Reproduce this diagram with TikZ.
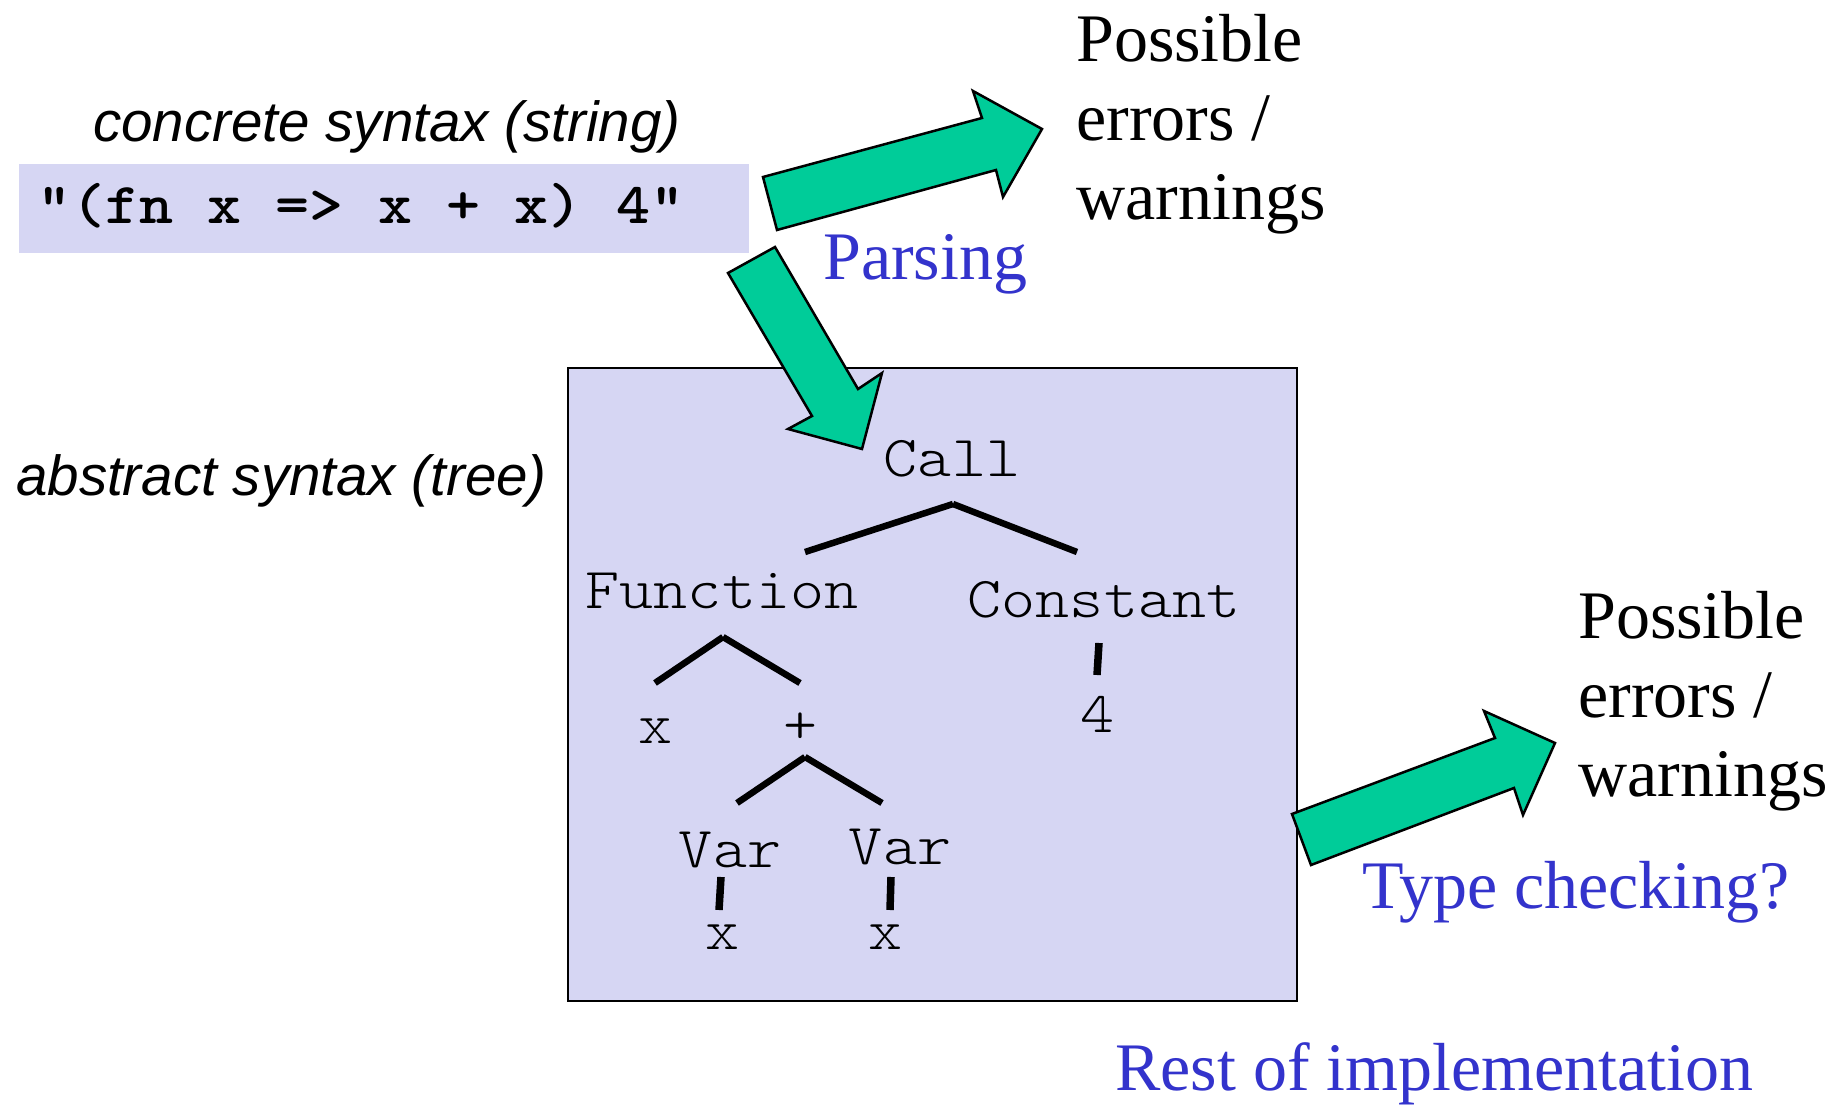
\documentclass[tikz,border=0pt]{standalone}
\usepackage{fontspec}
\setmainfont{Liberation Serif}
\setsansfont{Liberation Sans}
\definecolor{lav}{RGB}{214,214,243}
\definecolor{arrowgreen}{RGB}{0,204,153}
\definecolor{textblue}{RGB}{51,51,204}
\newcommand\treefnt{\fontfamily{lmtt}\fontseries{l}\fontshape{n}\fontsize{58}{60}\selectfont}
\newcommand\codefnt{\fontfamily{lmtt}\fontseries{b}\fontshape{n}\fontsize{58}{60}\selectfont}
\newcommand\serifbig{\rmfamily\fontsize{68}{79}\selectfont}
\newcommand\sansit{\sffamily\itshape\fontsize{56.5}{60}\selectfont}
\begin{document}
\begin{tikzpicture}[x=1pt,y=-1pt,
  tlabel/.style={font=\treefnt, inner sep=0pt, anchor=base, xscale=1.117},
  tlink/.style={line width=6.5pt, line cap=butt},
  tbar/.style={line width=7.5pt, line cap=butt},
  blockarrow/.style={fill=arrowgreen, draw=black, line width=2.5pt, line join=miter},
  errtext/.style={font=\serifbig, inner sep=0pt, align=left, anchor=north west},
  bluetext/.style={font=\serifbig, text=textblue, inner sep=0pt, anchor=base west},
  caption/.style={font=\sansit, inner sep=0pt, anchor=base west}
]
\useasboundingbox (0,0) rectangle (1845,1107);
\fill[white] (0,0) rectangle (1845,1107);

% concrete syntax
\node[caption] (concl) at (93,142) {concrete syntax (string)};
\node[fill=lav, minimum width=730, minimum height=89, inner sep=0pt, anchor=north west] (strbox) at (19,164) {};
\node[font=\codefnt, inner sep=0pt, anchor=base, xscale=1.117] (code) at (361,224) {"(fn x => x + x) 4"};

% abstract syntax
\node[caption] (absl) at (16,495) {abstract syntax (tree)};
\node[draw=black, fill=lav, line width=2pt, minimum width=729, minimum height=633, inner sep=0pt, anchor=north west] (astbox) at (567,367) {};

% tree labels
\node[tlabel] (call) at (952,476) {Call};
\node[tlabel] (fun) at (722,608) {Function};
\node[tlabel] (const) at (1104,617) {Constant};
\node[tlabel] (px) at (655,743) {x};
\node[tlabel] (plus) at (800,743) {+};
\node[tlabel] (four) at (1097,732) {4};
\node[tlabel] (varl) at (730,867) {Var};
\node[tlabel] (varr) at (900,864) {Var};
\node[tlabel] (xl) at (722,949) {x};
\node[tlabel] (xr) at (885,949) {x};

% tree link end points
\coordinate (callA) at (953,504);
\coordinate (funT) at (805,552);
\coordinate (constT) at (1077,552);
\coordinate (funA) at (723,637);
\coordinate (pxT) at (655,683);
\coordinate (plusT) at (800,683);
\coordinate (plusA) at (805,757);
\coordinate (varlT) at (737,803);
\coordinate (varrT) at (882,803);
\coordinate (constB) at (1099,643);
\coordinate (fourT) at (1097,675);
\coordinate (varlB) at (721,877);
\coordinate (xlT) at (719,910);
\coordinate (varrB) at (891,877);
\coordinate (xrT) at (890,910);

\draw[tlink] (callA) -- (funT);
\draw[tlink] (callA) -- (constT);
\draw[tlink] (funA) -- (pxT);
\draw[tlink] (funA) -- (plusT);
\draw[tlink] (plusA) -- (varlT);
\draw[tlink] (plusA) -- (varrT);
\draw[tbar] (constB) -- (fourT);
\draw[tbar] (varlB) -- (xlT);
\draw[tbar] (varrB) -- (xrT);

% block arrows
\draw[blockarrow] (777,230) -- (763,177) -- (982,118) -- (973,91) -- (1042,129) -- (1003,197) -- (996,170) -- cycle;
\draw[blockarrow] (728,273) -- (775,247) -- (858,389) -- (882,373) -- (862,449) -- (788,429) -- (812,416) -- cycle;
\draw[blockarrow] (1311,865) -- (1292,814) -- (1495,738) -- (1484,711) -- (1555,743) -- (1523,815) -- (1514,788) -- cycle;

% side texts
\node[errtext] (err1) at (1076,14) {Possible\\errors /\\warnings};
\node[errtext] (err2) at (1578,591) {Possible\\errors /\\warnings};
\node[bluetext] (parsing) at (823,280) {Parsing};
\node[bluetext] (typeck) at (1362,908) {Type checking?};
\node[bluetext] (rest) at (1115,1090) {Rest of implementation};
\end{tikzpicture}
\end{document}
